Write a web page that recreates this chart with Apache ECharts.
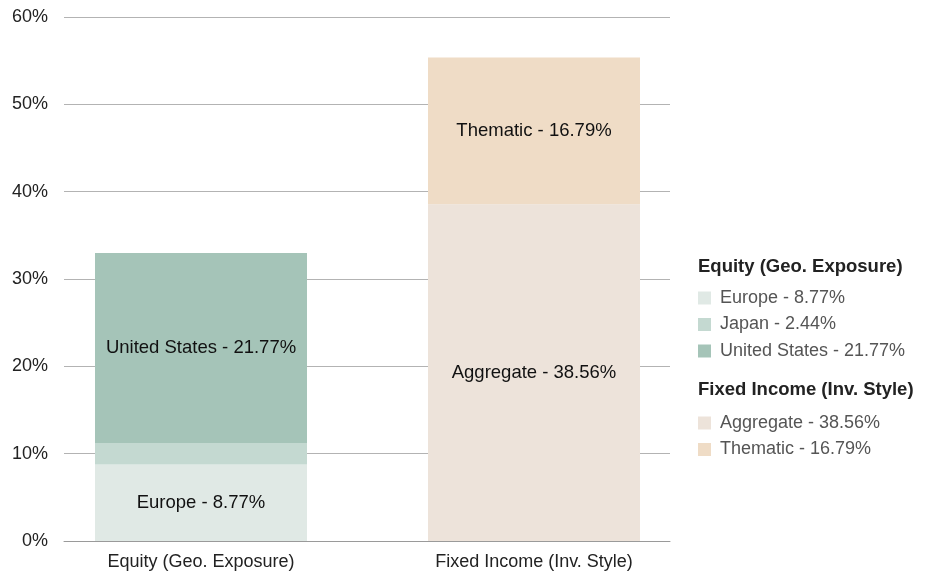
<!DOCTYPE html>
<html><head><meta charset="utf-8">
<script src="https://cdn.jsdelivr.net/npm/echarts@6/dist/echarts.min.js"></script>
<style>html,body{margin:0;padding:0;background:#fff}#c{width:928px;height:571px}</style>
</head><body><div id="c"></div>
<script>
const categories = ['Equity (Geo. Exposure)', 'Fixed Income (Inv. Style)'];
const equityNames = ['Europe', 'Japan', 'United States'];
const equityValues = [8.77, 2.44, 21.77];
const fixedNames = ['Aggregate', 'Thematic'];
const fixedValues = [38.56, 16.79];
const yTicks = [0, 10, 20, 30, 40, 50, 60];

const equityColors = ['#e0e9e5', '#c4d9d1', '#a5c4b8'];
const fixedColors = ['#ede3da', '#efdcc6'];
const FONT = 'Liberation Sans, Arial, Helvetica, sans-serif';
const FS = 18;

const fmt = (n, v) => n + ' - ' + v.toFixed(2) + '%';
const series = [];
equityNames.forEach((n, i) => {
  series.push({
    name: fmt(n, equityValues[i]), type: 'bar', stack: 'all', xAxisIndex: 1, yAxisIndex: 1,
    barWidth: 212, data: [equityValues[i], '-'],
    itemStyle: { color: equityColors[i] },
    label: { show: equityValues[i] > 5, position: 'inside', formatter: fmt(n, equityValues[i]), color: '#111', fontSize: 18.5, fontFamily: FONT }
  });
});
fixedNames.forEach((n, i) => {
  series.push({
    name: fmt(n, fixedValues[i]), type: 'bar', stack: 'all', xAxisIndex: 1, yAxisIndex: 1,
    barWidth: 212, data: ['-', fixedValues[i]],
    itemStyle: { color: fixedColors[i] },
    label: { show: fixedValues[i] > 5, position: 'inside', formatter: fmt(n, fixedValues[i]), color: '#111', fontSize: 18.5, fontFamily: FONT }
  });
});

const legendText = { fontSize: FS, color: '#555', fontFamily: FONT, padding: [0, 0, 0, 4] };
const chart = echarts.init(document.getElementById('c'), null, { renderer: 'canvas' });
chart.setOption({
  animation: false,
  textStyle: { fontFamily: FONT },
  title: [
    { text: 'Equity (Geo. Exposure)', left: 693, top: 252, textStyle: { fontSize: 18.5, fontWeight: 'bold', color: '#222', fontFamily: FONT } },
    { text: 'Fixed Income (Inv. Style)', left: 693, top: 375, textStyle: { fontSize: 18.5, fontWeight: 'bold', color: '#222', fontFamily: FONT } }
  ],
  legend: [
    { data: equityNames.map((n, i) => fmt(n, equityValues[i])), orient: 'vertical', left: 693, top: 284, itemWidth: 13, itemHeight: 13, itemGap: 8.5, icon: 'rect', selectedMode: false, textStyle: legendText },
    { data: fixedNames.map((n, i) => fmt(n, fixedValues[i])), orient: 'vertical', left: 693, top: 409, itemWidth: 13, itemHeight: 13, itemGap: 8.5, icon: 'rect', selectedMode: false, textStyle: legendText }
  ],
  grid: [
    { left: 64, right: 258, top: 17, bottom: 30 },
    { left: 34.5, right: 227.5, top: 17, bottom: 30 }
  ],
  xAxis: [
    { gridIndex: 0, type: 'category', data: categories, axisLine: { show: true, lineStyle: { color: '#9a9a9a', width: 1 } },
      axisTick: { show: false }, axisLabel: { show: false }, z: 1 },
    { gridIndex: 1, type: 'category', data: categories, axisLine: { show: false }, axisTick: { show: false },
      axisLabel: { fontSize: FS, color: '#222', margin: 12, fontFamily: FONT } }
  ],
  yAxis: [
    { gridIndex: 0, type: 'value', min: yTicks[0], max: yTicks[yTicks.length - 1], interval: 10,
      axisLine: { show: false }, axisTick: { show: false },
      axisLabel: { formatter: '{value}%', fontSize: FS, color: '#222', margin: 16, fontFamily: FONT },
      splitLine: { lineStyle: { color: '#b3b3b3', width: 1 } } },
    { gridIndex: 1, type: 'value', min: 0, max: 60, show: false, splitLine: { show: false } }
  ],
  series: series
});
</script></body></html>
